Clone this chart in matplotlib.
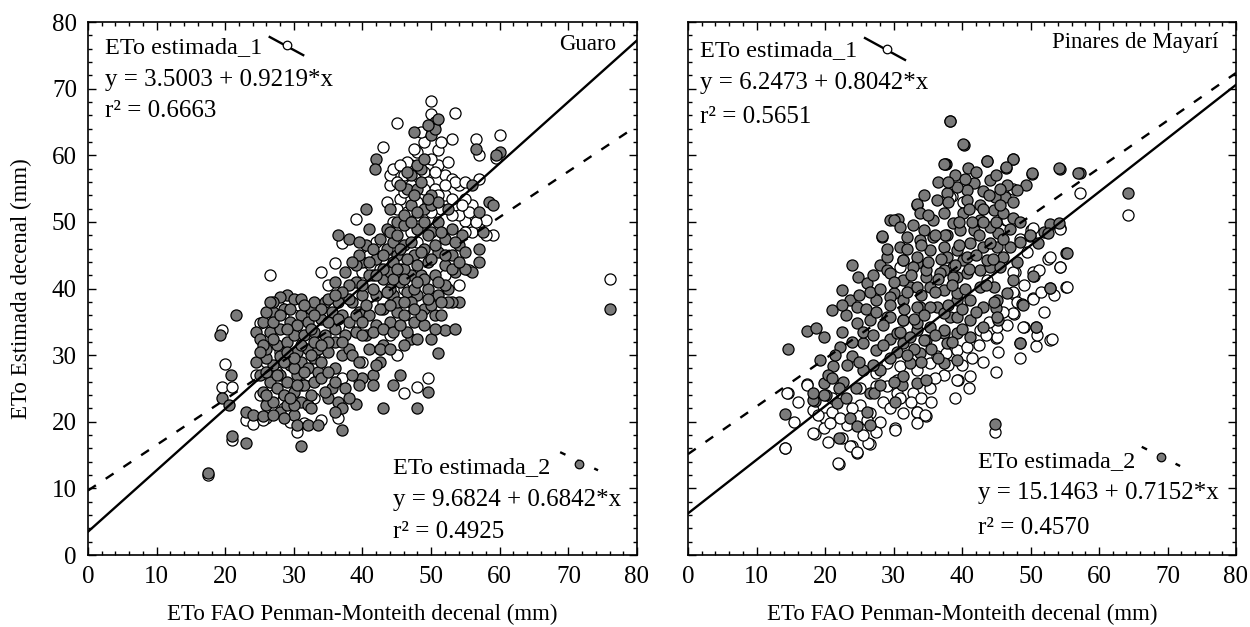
"""ETo estimada vs ETo FAO Penman-Monteith (decenal), Guaro y Pinares de Mayari."""
import numpy as np
import matplotlib
matplotlib.use("Agg")
import matplotlib.pyplot as plt
from matplotlib.ticker import MultipleLocator

# ---- data (x = ETo FAO P-M, y = ETo estimada) ----
guaro_1 = [
    (17.5, 12), (19.5, 33.8), (19.5, 25.2), (20, 28.7), (21, 25.2), (21, 17.2), (23, 20.2),
    (24, 19.6), (26.5, 42), (34, 42.5), (34, 20.2), (30.5, 18.5), (29.5, 20), (36, 43.8),
    (37, 46.8), (39, 50.5), (39.5, 26.3), (43, 61.3), (45, 64.8), (46, 24.3), (48, 25.2),
    (49.5, 26.5), (50, 68.2), (50, 66.2), (49, 62), (51, 60.8), (53.5, 66.3), (53, 62.5),
    (56.5, 62.4), (57, 60), (60, 63), (59.5, 59.6), (59, 48), (58, 50.3), (55, 50.2),
    (76, 41.5), (26, 20.5), (26, 29), (25, 34.8), (35, 40.5), (37, 26.5), (45, 30),
    (44, 55.5), (46, 57), (47, 58.5), (49, 57.5), (51, 58.5), (52, 57), (53, 56.5),
    (54, 55.5), (52, 54), (51.5, 52), (50, 51.5), (48, 53), (45.5, 53.5), (45, 52),
    (46, 54.5), (48, 51), (54, 51), (56, 52.5), (57, 56.5), (53, 48), (52, 42), (55.5, 42.8),
    (54, 40.5), (47, 48.5), (48, 47), (56, 48.5), (42, 47), (44, 46), (41, 45), (40, 42.5),
    (30, 36), (28, 30.5), (32, 27), (33, 30), (31, 25.5), (28.5, 22), (27, 24), (33, 23.5),
    (38, 34), (40, 29), (43, 38), (50, 38), (46, 40), (47, 36), (44, 33), (29, 38.5),
    (27.5, 27.5), (42.5, 31), (53.5, 56), (55, 53.5), (49.5, 56), (50.5, 55), (46.5, 51.5),
    (44, 57), (44.5, 50), (52.5, 59), (48, 60.5), (47.5, 61), (51, 54), (49, 55), (24.5, 27),
    (25, 24), (25.5, 20.3), (29.5, 21.5), (31.5, 19.8), (36.5, 20.5),
    (43.5, 53), (44.5, 58), (45, 56), (46.5, 59), (47, 55.5), (50.5, 57.5), (52, 55.5),
    (53, 53.5), (55, 56), (55.5, 51.5), (56.5, 50), (54.5, 52.5), (58, 48), (50, 59.5),
    (51.5, 62), (48.5, 63.5), (45.5, 58.5), (42.5, 43), (41.5, 42), (53, 51), (55, 48.5),
]
guaro_2 = [
    (17.5, 12.3), (19.3, 33), (19.5, 23.5), (20.5, 22.5), (20.8, 27), (21, 17.8), (21.5, 36),
    (23, 21.5), (23, 16.8), (24, 21),
    (25, 27), (25.5, 24.5), (26, 22.5), (26.5, 26), (27, 23), (27, 28.5), (27.5, 25), (28, 21.5),
    (28, 27), (28.5, 24), (29, 22.5), (29, 26), (29.5, 28.5), (30, 24.5), (30, 21), (30.5, 27),
    (31, 23), (31, 29), (31.5, 25.5), (32, 22.5), (32, 28), (33, 26), (33, 29.5), (26, 29.5),
    (28, 29.8), (25.5, 20.8), (27, 21), (28.5, 20.5), (30.5, 19.5), (32, 19.5), (31, 16.3),
    (32.5, 22), (30, 22.5),
    (24.5, 33.5), (25, 32.5), (25.5, 35), (26, 31), (26.5, 33.5), (27, 36.5), (27.5, 31.5),
    (28, 34), (28.5, 37), (29, 32), (29, 39), (29.5, 35), (30, 38.5), (30, 33), (30.5, 30.5),
    (31, 36), (31, 38.5), (31.5, 33), (32, 31), (32, 35), (32.5, 37), (33, 33.5), (33, 38),
    (33.5, 31), (34, 35.5), (34.5, 33), (34.5, 38), (35, 30.5), (35.5, 36.5), (36, 34),
    (36, 32), (36.5, 38), (37, 36), (37, 30), (28, 38.8), (27, 35), (30, 28), (32.5, 30),
    (35, 23.5), (35.5, 25), (36, 28), (36.5, 23), (37, 22), (37, 18.7), (38, 31), (38, 35),
    (38.5, 38), (39, 41), (39, 33.5), (39.5, 36.5), (40, 39), (40, 44), (40.5, 33), (40.5, 46.5),
    (41, 42), (41, 36), (41, 31), (41.5, 27), (42, 39), (42, 44.5), (42, 34.5), (42.5, 29),
    (43, 41.5), (43, 37), (43.5, 46), (44, 35), (44, 42.5), (44.5, 39), (45, 45), (45, 36.5),
    (45.5, 41), (40, 26.5), (41.5, 25.5), (42, 28.5), (39, 22.7), (43, 22), (44.5, 25.5),
    (45.5, 27), (48, 22), (49.5, 24.5), (38.5, 27), (39.5, 25.5), (37.5, 42.5), (36, 41),
    (36.5, 48), (38, 47.5), (39.5, 47), (40.5, 52), (41, 49), (42, 59.5), (41.8, 58),
    (47, 32.5), (46.5, 33.5), (48, 32.5), (47.5, 35), (50, 32.5), (52, 33.8), (53.5, 34),
    (51, 30.3), (50.5, 36), (49, 34.5),
    (43.5, 49), (44, 52), (44.5, 47), (45, 50), (45.5, 43), (46, 46.5), (46, 49.5), (46.5, 39.5),
    (46.5, 55), (47, 42), (47, 52.5), (47, 57), (47.5, 45), (48, 39), (48, 49), (48, 55),
    (48.5, 42), (48.5, 58), (49, 46), (49, 52), (49, 37), (49.5, 40), (49.5, 44), (50, 48.5),
    (50, 54), (50, 63), (50.5, 65), (50.5, 42), (51, 45.5), (51, 50), (51, 39), (51.5, 36),
    (52, 47.5), (52, 43.5), (52.5, 52), (52.5, 40), (53, 45), (53, 49), (53.5, 42.5), (54, 38),
    (54, 46.5), (47.5, 63.5), (50.5, 64), (56, 55.5), (56.5, 61), (57, 51.5), (57.5, 48.5),
    (57, 46), (57, 44), (56, 42.5), (58.5, 53), (59, 52.5), (60, 60.5), (59.5, 60), (43, 43),
    (44, 40), (45, 38), (46, 36), (47, 38), (48.5, 36), (50, 37.5), (46, 43), (44.5, 44),
    (54.5, 48), (55, 43), (53, 38), (52, 40.5), (43, 31.5), (42.5, 31), (44, 31), (46, 31.5),
    (76, 37),
    (26, 24), (27.5, 27), (28.5, 29), (29.5, 23.5), (30.5, 25.5), (31.5, 27.5), (32.5, 24),
    (33.5, 27.5), (34, 29), (29, 30.5), (31, 31.5), (33, 32), (35, 32), (26, 27.5), (27, 32.5),
    (28, 36), (29.5, 37), (30.5, 34.5), (31.5, 37.5), (32.5, 34), (34, 37), (35, 38.5),
    (36.5, 35.5), (37.5, 33), (38.5, 30), (39.5, 29), (37, 32), (38, 38.5), (39, 36), (40, 35),
    (40.5, 37.5), (41.5, 40), (42, 42), (42.5, 37), (43.5, 39.5), (44, 37.5), (44.5, 41.5),
    (45, 43), (45.5, 46), (46, 41.5), (46.5, 44.5), (47, 47), (47.5, 40), (48, 43.5),
    (48.5, 45.5), (49, 41.5), (49.5, 48), (50, 44.5), (50.5, 46.5), (51, 41), (51.5, 48.5),
    (52, 45), (52.5, 38), (53, 43), (53.5, 47), (54, 44), (55, 45.5), (44, 48.5), (45, 48),
    (46, 51), (47, 50), (48, 51.5), (49, 50), (50, 52.5), (51, 53), (49.5, 53.5), (48.5, 56),
    (47.5, 54), (46.5, 57.5), (45.5, 55.5), (48, 58.5), (49, 59.5), (49.5, 64.5), (51, 65.5),
    (38, 40.5), (39, 43.5), (40, 40.5), (41, 44), (41.5, 46), (42.5, 47.5), (43, 45),
    (39.5, 45), (38.5, 44), (37, 39.5), (36, 39), (35, 35), (34, 31.5), (33, 36), (27, 38),
    (26, 36.5), (25.5, 31.5), (24.5, 29), (25, 30.5), (26.5, 38), (29, 34), (30, 29.5),
    (34, 26.5), (35, 27.5), (36, 26), (37.5, 25), (38, 23.5), (36, 21.5), (33.5, 19.5),
    (34.5, 24.5), (40, 33), (41.5, 33.5), (43, 34), (44.5, 33.5), (45.5, 34.5), (46, 38),
    (47.5, 37), (48, 41), (49.5, 38.5), (51.5, 38), (50.5, 34),
]
mayari_1 = [
    (14.2, 16.1), (22.1, 13.7), (14.6, 24.3), (17.3, 25.7), (18.6, 18.2), (20, 20.6),
    (23.9, 16.4), (24.7, 15.3), (26.5, 16.7), (30.2, 19), (33.5, 21.5), (34.8, 20.9),
    (44.8, 18.5), (41.1, 26.9), (39.4, 26.3), (64.3, 51), (57.2, 54.3), (55.2, 40.2),
    (54.3, 43.2), (52.6, 44.5), (50.5, 41.9), (50.4, 38.6), (49, 34.2), (48.4, 29.5),
    (52.9, 32.3), (50.8, 31.4), (45.3, 30.5), (44.9, 32.6), (47.6, 36.2), (47.6, 39.2),
    (50, 48.8), (54.3, 49.1), (47.8, 42.5), (46.4, 50.3), (38.5, 53.9), (40.3, 53),
    (37.6, 58.7), (17.3, 25.5), (14.4, 24.3), (14.2, 16), (21.9, 13.8), (18.3, 18.3),
    (19.8, 19), (21, 21.5), (23.6, 16.3), (24.6, 15.5), (26.3, 16.8), (23.2, 19.5),
    (26.6, 21.3), (25.1, 22.5), (28.5, 23), (30.2, 18.8), (31.4, 21.3), (33.4, 21.5),
    (34.6, 21), (29, 25.3), (30.5, 26.3), (27.5, 27.3), (29, 28.8), (30.9, 28.3), (33.4, 27.8),
    (35.3, 28.8), (36.3, 29.8), (37.7, 30.3), (39.2, 30.8), (40.7, 31.3), (39.2, 26.3),
    (37.3, 27), (35.3, 25), (32.9, 24.3), (30.5, 24.3), (27.5, 25.3), (25.1, 25), (18.3, 21.8),
    (20.7, 19.8), (22.2, 20.5), (26.1, 20.3), (33.4, 19.8), (38.2, 53.8), (40.2, 53),
    (47.5, 55), (46.5, 50.3), (50.3, 49.1), (54.3, 49), (52.8, 44.8), (54.3, 43.3), (50.4, 42.5),
    (51.3, 42.8), (47.5, 42.5), (47.5, 39.5), (55.3, 40.3), (50.4, 38.5), (48.9, 34.3),
    (50.9, 33), (53.1, 32.5), (45.1, 32.8), (42.6, 33.8), (47.5, 36.3), (45.1, 34.3),
    (43.6, 41.3), (31, 43.3), (38.7, 43.3),
    (28, 20), (29.5, 22), (31, 23.5), (32.5, 23), (34, 23.5), (36, 26.5), (38, 28.5),
    (40, 28.5), (41.5, 29.5), (42.5, 31.5), (43.5, 33), (44, 35), (46, 36.5), (46.5, 34.5),
    (48, 38), (49, 40.5), (51.5, 39.5), (52, 36.5), (53.5, 39), (49.5, 45.5), (48.5, 47.5),
    (41, 25), (35.5, 23), (27.5, 18.5), (25.5, 18), (22.5, 17.5), (20.5, 17), (19, 21),
    (16, 23), (15.5, 20), (21, 23.5), (24, 22), (43, 29), (45, 27.5), (39, 23.5),
]
mayari_2 = [
    (38.3, 65.1), (40.3, 61.6), (43.6, 59.1), (47.5, 59.4), (46.4, 58.1), (37.5, 58.7),
    (33.5, 52.6), (28.3, 47.8), (29.5, 50.3), (30.6, 50.4), (50.2, 57.2), (54.3, 58),
    (57.2, 57.3), (64.3, 54.3), (55.2, 45.3), (52.8, 40.1), (50.8, 34.3), (48.4, 31.9),
    (14.6, 30.9), (14.2, 21.2), (22, 17.6), (44.8, 19.6), (24, 43.5), (22.5, 39.8),
    (17.3, 33.6), (18.7, 34.1), (18.5, 23.1), (21, 36.8), (44.9, 37.1), (45.3, 35.3),
    (48.8, 37.7), (52, 48.5), (49.9, 47.9), (52.8, 49.7),
    (23.6, 38.3), (24.8, 41.8), (26.1, 40.8), (28, 43.5), (31.4, 44.3), (19.8, 32.8),
    (19.3, 29.3), (18.3, 23.3), (20.2, 24), (22.7, 26), (26.6, 24.3), (26.1, 21.5), (23.6, 20.5),
    (24.6, 19.3), (26.6, 19.5), (30.2, 23), (31.2, 25.5), (33.4, 25.8), (34.8, 26.3),
    (23.9, 29.8), (25.6, 31.8), (27.5, 30.8), (29.5, 32.5), (31.4, 31.8), (33.4, 33.8),
    (34.8, 32.3), (37.3, 33.3), (38.2, 35.8), (39.2, 38.3), (36.3, 37.3), (33.9, 37.3),
    (31.4, 35.3), (29, 35.8), (26.6, 35.3), (24.6, 34.8), (24.6, 37.3), (27.5, 38.3), (30, 39.3),
    (32.4, 40.3), (34.8, 41.8), (37.3, 42.8), (39.2, 41.8), (40.2, 44.3), (33.4, 43.8),
    (29, 42.8), (22.2, 31.3), (21.2, 28.3), (23.2, 28.5), (25.6, 27.8), (28, 27.8), (32.4, 28.8),
    (33.9, 30.3), (37.3, 28.8), (39.2, 29.3), (31.4, 26.8), (19.8, 25.8), (21.7, 22.8),
    (19.8, 24), (18.3, 24.3), (27.1, 24.3),
    (38.2, 65.2), (40.2, 61.7), (37.3, 58.7), (43.6, 59.2), (47.4, 59.4), (46.4, 58.2),
    (50.2, 57.3), (54.2, 58.1), (57, 57.3), (39, 57.1), (40.9, 58.1), (44.1, 56.3), (41.7, 55.8),
    (45, 57.1), (49.3, 55.6), (48, 54.8), (46.3, 53.8), (44.8, 53.8), (43.1, 54.6), (40.7, 54.8),
    (42.6, 52.6), (40.7, 53.3), (33.4, 52.7), (30, 50.3), (30.9, 49.3), (28.3, 47.9),
    (32.9, 49.5), (34.4, 48.8), (35.8, 50.3), (37.3, 51.3), (38.7, 49.8), (40.2, 51.3),
    (42.6, 50.3), (44.6, 51.8), (46, 51.3), (47.5, 50.6), (45.3, 48.3), (44.1, 49.3),
    (41.7, 48.8), (39.7, 48.8), (37.8, 48), (35.8, 47.8), (33.9, 47.3), (31.9, 47.8), (31, 46.3),
    (29, 44.8), (31.4, 44.3), (33.4, 44.8), (35.3, 45.8), (37.3, 46.3), (39.2, 45.8),
    (41.2, 46.8), (43.1, 46.3), (45.1, 46.3), (47, 46.3), (48.5, 47), (49.9, 48), (52.6, 48.4),
    (54.1, 49.8), (51.1, 46.8), (50.4, 41.9), (52.8, 40.1), (55.3, 45.3), (48.9, 37.6),
    (50.8, 34.3), (48.4, 31.9), (45.1, 38.3), (45.1, 35.8), (43.1, 37.3), (41.2, 38.3),
    (39.2, 39.3), (37.3, 39.8), (35.3, 40.3), (33.4, 40.3), (31.4, 41.3), (29.5, 42.3),
    (29.5, 38.8), (31.4, 38.3), (33.4, 37.3), (35.3, 37.3), (37.3, 36.3), (39.2, 35.8),
    (41.2, 35.3), (43.1, 34.3), (41.2, 32.8), (39.2, 33.3), (37.3, 33.8), (35.3, 34.3),
    (33.4, 34.8), (31.4, 35.3), (29.5, 35.8), (34.4, 32.3), (37.8, 31.8), (32.4, 32.8),
    (30.5, 33.3), (38.7, 41.8), (36.8, 42.3), (40.7, 42.3), (42.6, 42.8), (44.1, 43.3),
    (34.8, 42.8), (32.9, 43.3), (37.8, 44.8), (40.7, 44.8), (43.6, 44.3), (46, 44.8),
    (45.5, 43.3), (47.5, 41.3), (46.5, 39.3), (44.6, 40.3), (42.6, 40.3), (44.1, 46.8),
    (36.3, 53.3), (37.8, 54.3), (39.2, 55.3), (38, 53), (33.9, 51.3), (44.6, 38),
    (20.5, 27), (21.5, 30), (22.5, 33.5), (23, 36), (24, 32), (25, 29), (25.5, 33.5), (26, 37),
    (26.5, 39.5), (27, 33), (27.5, 36.5), (28, 40), (28.5, 31.5), (28.5, 34.5), (29.5, 37.5),
    (30, 41), (30.5, 30.5), (31, 33.5), (31.5, 37), (32, 39.5), (32.5, 42), (33, 31),
    (33, 35.5), (34, 39), (34.5, 36), (35, 44), (35.5, 31), (36, 33), (36, 39.5), (36.5, 41.5),
    (37, 44.5), (37.5, 48), (38, 37.5), (38.5, 40.5), (39, 43.5), (39.5, 46.5), (40, 37),
    (40.5, 40), (41, 43), (41.5, 50), (42, 45), (42.5, 48), (43, 52), (43.5, 40.5), (44, 54),
    (44.5, 44.5), (45, 50), (45.5, 52.5), (46, 47.5), (46.5, 55.5), (47, 49), (47.5, 53),
    (48, 44), (48.5, 50), (42, 36.5), (40, 34), (38.5, 32), (36.5, 29.5), (34, 29), (32, 30),
    (30, 26), (28, 25.5), (27, 28.5), (29.5, 29.5), (24.5, 25), (23, 23.5), (22, 25), (21, 26.5),
    (22.5, 37.5), (25, 39), (27, 42), (29, 46), (32, 46), (34, 46.5), (36, 48), (35, 51),
    (34.5, 54), (36.5, 56), (39.5, 50), (41, 52), (42, 57.5), (43, 50), (45.5, 55), (38, 56),
    (40.5, 56.5),
]

# regression coefficients (intercept, slope) and r^2 printed on the chart
guaro_fit = {"1": (3.5003, 0.9219, 0.6663), "2": (9.6824, 0.6842, 0.4925)}
mayari_fit = {"1": (6.2473, 0.8042, 0.5651), "2": (15.1463, 0.7152, 0.4570)}

GRAY = "#7a7a7a"
FS_TXT = 18      # annotations and tick labels
FS_LAB = 16.5    # axis titles
MS = 64
MS_LEG = 38
plt.rcParams.update({"font.family": ["Liberation Serif", "DejaVu Serif"],
                     "font.size": FS_TXT})

fig = plt.figure(figsize=(12.5, 6.27), dpi=100)
axL = fig.add_axes([0.0704, 0.1148, 0.4392, 0.850])
axR = fig.add_axes([0.5504, 0.1148, 0.4384, 0.850])


def panel(ax, pts1, pts2, fit, name, txt1, txt2, show_ylab):
    p1, p2 = np.array(pts1), np.array(pts2)
    ax.scatter(p1[:, 0], p1[:, 1], s=MS, facecolor="white", edgecolor="black",
               linewidth=0.9, zorder=2)
    ax.scatter(p2[:, 0], p2[:, 1], s=MS, facecolor=GRAY, edgecolor="black",
               linewidth=0.9, zorder=3)
    xx = np.array([0, 80])
    a1, b1, r1 = fit["1"]
    a2, b2, r2 = fit["2"]
    ax.plot(xx, a1 + b1 * xx, color="black", lw=1.7, zorder=4)
    ax.plot(xx, a2 + b2 * xx, color="black", lw=1.7, dashes=(4, 5), zorder=4)

    ax.set_xlim(0, 80); ax.set_ylim(0, 80)
    ax.xaxis.set_major_locator(MultipleLocator(10))
    ax.yaxis.set_major_locator(MultipleLocator(10))
    ax.xaxis.set_minor_locator(MultipleLocator(2))
    ax.yaxis.set_minor_locator(MultipleLocator(2))
    ax.tick_params(which="both", direction="in", top=True, right=True,
                   labelsize=FS_TXT, width=1.0)
    ax.tick_params(which="major", length=6, pad=8)
    ax.tick_params(which="minor", length=3)
    for sp in ax.spines.values():
        sp.set_linewidth(1.2)
    if not show_ylab:
        ax.tick_params(labelleft=False)
    else:
        ax.set_ylabel("ETo Estimada decenal (mm)", fontsize=FS_LAB, labelpad=14)
    ax.set_xlabel("ETo FAO Penman-Monteith decenal (mm)", fontsize=FS_LAB, labelpad=11)

    T = ax.transAxes
    ax.text(name[1], name[2], name[0], transform=T, ha="right", va="center",
            fontsize=FS_LAB)
    # upper-left block (series 1)
    x0, ys, lx, ly, mk = txt1
    ax.text(x0, ys[0], "ETo estimada_1", transform=T, va="center", fontsize=17.5)
    ax.text(x0, ys[1], f"y = {a1:.4f} + {b1:.4f}*x", transform=T, va="center")
    ax.text(x0, ys[2], f"r² = {r1:.4f}", transform=T, va="center")
    ax.plot(lx, ly, transform=T, color="black", lw=1.7, clip_on=False, zorder=5)
    ax.scatter([mk[0]], [mk[1]], transform=T, s=MS_LEG, facecolor="white",
               edgecolor="black", linewidth=0.9, zorder=6, clip_on=False)
    # lower-right block (series 2)
    x0, ys, lx, ly, mk = txt2
    ax.text(x0, ys[0], "ETo estimada_2", transform=T, va="center", fontsize=17.5)
    ax.text(x0, ys[1], f"y = {a2:.4f} + {b2:.4f}*x", transform=T, va="center")
    ax.text(x0, ys[2], f"r² = {r2:.4f}", transform=T, va="center")
    ax.plot(lx, ly, transform=T, color="black", lw=1.7, dashes=(2.5, 5.5),
            clip_on=False, zorder=5)
    ax.scatter([mk[0]], [mk[1]], transform=T, s=MS_LEG, facecolor=GRAY,
               edgecolor="black", linewidth=0.9, zorder=6, clip_on=False)


panel(axL, guaro_1, guaro_2, guaro_fit, ("Guaro", 0.963, 0.958),
      (0.031, (0.953, 0.891, 0.833), [0.331, 0.392], [0.972, 0.938], (0.363, 0.957)),
      (0.556, (0.165, 0.103, 0.043), [0.860, 0.929], [0.193, 0.159], (0.895, 0.171)),
      True)
panel(axR, mayari_1, mayari_2, mayari_fit, ("Pinares de Mayarí", 0.967, 0.962),
      (0.022, (0.947, 0.886, 0.822), [0.323, 0.396], [0.970, 0.929], (0.363, 0.949)),
      (0.529, (0.176, 0.116, 0.051), [0.828, 0.898], [0.203, 0.167], (0.863, 0.184)),
      False)

fig.savefig("out.png", dpi=100)
